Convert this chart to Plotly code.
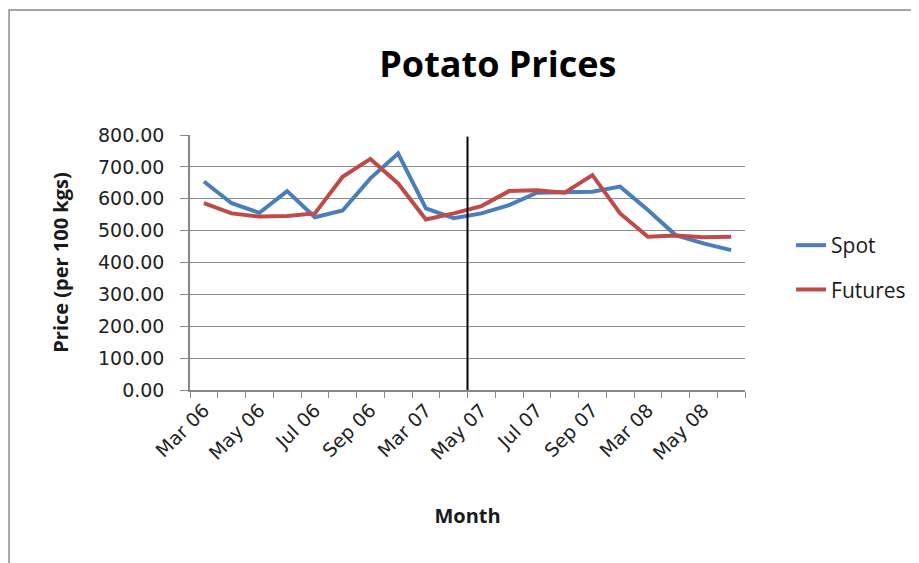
import plotly.graph_objects as go

months = ["Mar 06", "Apr 06", "May 06", "Jun 06", "Jul 06", "Aug 06", "Sep 06", "Oct 06",
          "Mar 07", "Apr 07", "May 07", "Jun 07", "Jul 07", "Aug 07", "Sep 07", "Oct 07",
          "Mar 08", "Apr 08", "May 08", "Jun 08"]
spot = [654, 586, 556, 624, 542, 563, 664, 742, 570, 539,
        554, 580, 619, 622, 622, 638, 565, 486, 460, 439]
futures = [586, 554, 544, 546, 554, 669, 725, 648, 535, 554,
           577, 624, 627, 619, 674, 554, 481, 485, 479, 481]
label_months = months[::2]
y_ticks = [0, 100, 200, 300, 400, 500, 600, 700, 800]
divider_month = 9.5  # between Apr 07 and May 07

FONT = "'Open Sans', sans-serif"
TICKFONT = "'DejaVu Sans', sans-serif"
idx = list(range(len(months)))

fig = go.Figure()
fig.add_trace(go.Scatter(x=idx, y=spot, mode="lines", name="Spot",
                         line=dict(color="#4A7EBB", width=4), legendgroup="a"))
fig.add_trace(go.Scatter(x=idx, y=futures, mode="lines", name="Futures",
                         line=dict(color="#BE4B48", width=4), legendgroup="b"))

fig.add_shape(type="line", xref="x", yref="y", x0=divider_month, x1=divider_month,
              y0=-5, y1=795, line=dict(color="black", width=2))
# outer chart border
fig.add_shape(type="rect", xref="paper", yref="paper", x0=-0.326, x1=1.6, y0=-0.9, y1=1.49,
              line=dict(color="#8a8a8a", width=1.5), layer="below")

fig.update_layout(
    width=919, height=563,
    margin=dict(l=182, r=182, t=127, b=181),
    paper_bgcolor="white", plot_bgcolor="white",
    font=dict(family=FONT, color="#1a1a1a", size=16),
    title=dict(text="<b>Potato Prices</b>", x=0.533, xanchor="center", y=1 - 56 / 563,
               yanchor="middle", font=dict(size=36, family=FONT, color="black")),
    legend=dict(x=1.083, y=0.647, xanchor="left", yanchor="top", tracegroupgap=14,
                font=dict(size=21, family=FONT), bgcolor="rgba(0,0,0,0)"),
    showlegend=True,
)
fig.update_xaxes(
    range=[-0.5, len(months) - 0.5],
    tickmode="array", tickvals=idx[::2], ticktext=label_months,
    tickangle=-45, ticks="", showgrid=False, zeroline=False,
    showline=True, linecolor="#888888", linewidth=1.5,
    minor=dict(tickmode="linear", tick0=-0.5, dtick=1, ticks="outside", ticklen=6,
               tickcolor="#888888", showgrid=False),
    title=dict(text="<b>Month</b>", standoff=46, font=dict(size=20, family=FONT)),
    tickfont=dict(size=19, family=TICKFONT, color="#222222"),
)
fig.update_yaxes(
    range=[0, 800], tickmode="array", tickvals=y_ticks, tickformat=".2f",
    showgrid=True, gridcolor="#8c8c8c", gridwidth=1,
    showline=True, linecolor="#888888", linewidth=1.5,
    ticks="outside", ticklen=8, tickcolor="#888888", zeroline=False,
    ticklabelstandoff=12,
    title=dict(text="<b>Price (per 100 kgs)</b>", standoff=24, font=dict(size=20, family=FONT)),
    tickfont=dict(size=19, family=TICKFONT, color="#222222"),
)

fig.write_html("out.html")
